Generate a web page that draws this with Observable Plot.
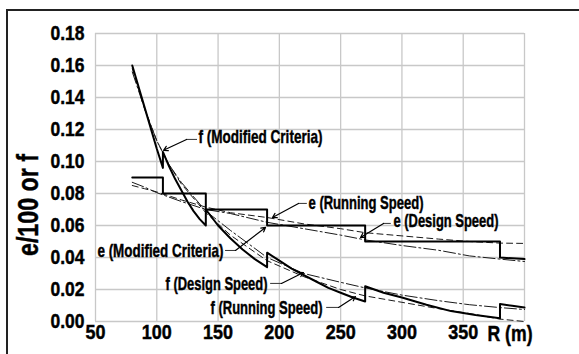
<!DOCTYPE html>
<html><head><meta charset="utf-8">
<script src="https://cdn.jsdelivr.net/npm/d3@7"></script>
<script src="https://cdn.jsdelivr.net/npm/@observablehq/plot@0.6"></script>
<style>
html,body{margin:0;padding:0;background:#fff;}
#chart{width:579px;height:354px;}
#chart svg text{font-weight:bold;stroke:#000;stroke-width:0.45px;}
</style></head><body><div id="chart"></div>
<script>
const FONT = '"Liberation Sans", Arial, sans-serif';

// ticks
const xTicks = [50, 100, 150, 200, 250, 300, 350, 400];
const xTickLabels = [50, 100, 150, 200, 250, 300, 350];
const yTicks = [0, 0.02, 0.04, 0.06, 0.08, 0.10, 0.12, 0.14, 0.16, 0.18];

// e (Modified Criteria) - step
const eModR = [80, 105, 105, 140, 140, 190, 190, 270, 270, 380, 380, 400];
const eModV = [0.09, 0.09, 0.08, 0.08, 0.07, 0.07, 0.06, 0.06, 0.05, 0.05, 0.04, 0.039];

// f (Modified Criteria) - sawtooth
const fModR = [80, 85, 90, 95, 100, 105, 105, 110, 115, 120, 125, 130, 135, 140, 140, 150, 160, 170, 180, 190, 190, 200, 210, 220, 230, 240, 250, 260, 270, 270, 285, 300, 320, 340, 360, 380, 380, 390, 400];
const fModV = [0.160, 0.147, 0.134, 0.121, 0.108, 0.096, 0.106, 0.097, 0.089, 0.082, 0.075, 0.069, 0.064, 0.060, 0.070, 0.060, 0.052, 0.045, 0.039, 0.034, 0.043, 0.038, 0.033, 0.029, 0.025, 0.021, 0.018, 0.015, 0.0125, 0.022, 0.018, 0.015, 0.0105, 0.0065, 0.004, 0.002, 0.011, 0.0098, 0.0087];

// e (Running Speed) - dashed
const eRunR = [80, 90, 100, 120, 140, 160, 190, 220, 250, 270, 300, 330, 355, 380, 400];
const eRunV = [0.085, 0.083, 0.081, 0.076, 0.0715, 0.068, 0.065, 0.061, 0.058, 0.0555, 0.0535, 0.0515, 0.050, 0.049, 0.0488];

// e (Design Speed) - dash-dot
const eDesR = [80, 90, 100, 120, 140, 160, 190, 220, 250, 270, 300, 330, 355, 380, 400];
const eDesV = [0.087, 0.084, 0.0805, 0.075, 0.070, 0.0675, 0.062, 0.058, 0.054, 0.051, 0.0475, 0.0445, 0.041, 0.039, 0.0375];

// f (Running Speed) - dashed
const fRunR = [80, 90, 100, 110, 120, 140, 160, 190, 220, 250, 270, 300, 330, 355, 380, 400];
const fRunV = [0.158, 0.133, 0.113, 0.098, 0.086, 0.068, 0.054, 0.038, 0.028, 0.020, 0.016, 0.012, 0.008, 0.005, 0.0015, 0.000];

// f (Design Speed) - dash-dot
const fDesR = [80, 90, 100, 110, 120, 140, 160, 190, 220, 250, 270, 300, 330, 355, 380, 400];
const fDesV = [0.156, 0.133, 0.113, 0.098, 0.087, 0.069, 0.057, 0.040, 0.030, 0.0245, 0.021, 0.0165, 0.013, 0.0105, 0.0087, 0.0075];

// annotations
const labelText = ["f (Modified Criteria)", "e (Running Speed)", "e (Design Speed)", "e (Modified Criteria)", "f (Design Speed)", "f (Running Speed)"];
const labelWidth = [124, 115, 105, 126, 102, 112];
const labelR    = [134.0, 223.8, 293.1, 51.6, 107.1, 143.8];
const labelV    = [0.1155, 0.0744, 0.0631, 0.0444, 0.0238, 0.0088];
const leadEndR  = [132.5, 222.1, 290.6, 156.0, 192.8, 238.5];
const elbowR    = [124.3, 215.6, 285.0, 164.2, 201.7, 248.3];
const elbowV    = [0.1138, 0.0738, 0.0613, 0.0444, 0.0238, 0.0088];
const tipR      = [105.5, 194.4, 266.2, 188.7, 219.7, 262.1];
const tipV      = [0.107, 0.065, 0.0525, 0.0588, 0.0306, 0.0156];

const pts = (R, V) => R.map((r, i) => ({R: r, v: V[i]}));
const labels = labelText.map((t, i) => ({t, R: labelR[i], v: labelV[i]}));
const leaders = labelText.flatMap((t, i) => [{k: i, R: leadEndR[i], v: elbowV[i]}, {k: i, R: elbowR[i], v: elbowV[i]}]);
const arrows = labelText.map((t, i) => ({R1: elbowR[i], v1: elbowV[i], R2: tipR[i], v2: tipV[i]}));

const thin = {x: "R", y: "v", stroke: "#1a1a1a", strokeWidth: 1};
const plot = Plot.plot({
  width: 579, height: 354,
  marginLeft: 95, marginRight: 55, marginTop: 33, marginBottom: 33,
  x: {domain: [50, 400]},
  y: {domain: [0, 0.18]},
  style: {fontFamily: FONT, background: "white", color: "#000"},
  marks: [
    Plot.gridX(xTicks, {stroke: "#c8c8c8", strokeOpacity: 1, strokeWidth: 1.3}),
    Plot.gridY(yTicks, {stroke: "#c8c8c8", strokeOpacity: 1, strokeWidth: 1.3}),
    Plot.axisX(xTickLabels, {tickSize: 0, tickPadding: 3, fontSize: 20, tickFormat: d => String(d), label: null}),
    Plot.axisY(yTicks, {tickSize: 0, tickPadding: 11, fontSize: 20, tickFormat: d => d.toFixed(2), label: null}),
    Plot.line(pts(eDesR, eDesV), {...thin, strokeDasharray: "12,3,2,3"}),
    Plot.line(pts(fDesR, fDesV), {...thin, strokeDasharray: "12,3,2,3"}),
    Plot.line(pts(eRunR, eRunV), {...thin, strokeDasharray: "6,4"}),
    Plot.line(pts(fRunR, fRunV), {...thin, strokeDasharray: "6,4"}),
    Plot.line(pts(eModR, eModV), {x: "R", y: "v", stroke: "#000", strokeWidth: 2}),
    Plot.line(pts(fModR, fModV), {x: "R", y: "v", stroke: "#000", strokeWidth: 2}),
    Plot.line(leaders, {x: "R", y: "v", z: "k", stroke: "#333", strokeWidth: 1}),
    Plot.arrow(arrows, {x1: "R1", y1: "v1", x2: "R2", y2: "v2", stroke: "#000", strokeWidth: 1.2, headLength: 6}),
    Plot.text(labels, {x: "R", y: "v", text: "t", textAnchor: "start", lineAnchor: "middle", fontSize: 19, fill: "#000"})
  ]
});
document.getElementById("chart").appendChild(plot);

const svg = d3.select(plot);
// condense texts to the reference's narrow heavy face
svg.selectAll("text").each(function () {
  const s = this.textContent;
  let w = null;
  const li = labelText.indexOf(s);
  if (li >= 0) w = labelWidth[li];
  else if (/^\d\.\d\d$/.test(s)) w = 34;
  else if (/^\d+$/.test(s)) w = s.length === 2 ? 20 : 30;
  if (w) d3.select(this).attr("textLength", w).attr("lengthAdjust", "spacingAndGlyphs");
});
svg.append("path").attr("d", "M7,354 V10 H579").attr("fill", "none").attr("stroke", "#222").attr("stroke-width", 2);
svg.append("text").text("R (m)").attr("x", 510).attr("y", 333)
  .attr("dominant-baseline", "central")
  .attr("textLength", 45).attr("lengthAdjust", "spacingAndGlyphs")
  .attr("font-size", 22).attr("font-weight", "bold").attr("font-family", FONT);
svg.append("text").text("e/100 or f")
  .attr("transform", "translate(28,154) rotate(-90)")
  .attr("x", -51)
  .attr("dominant-baseline", "central")
  .attr("textLength", 102).attr("lengthAdjust", "spacingAndGlyphs")
  .attr("font-size", 29).attr("font-weight", "bold").attr("font-family", FONT);
</script></body></html>
